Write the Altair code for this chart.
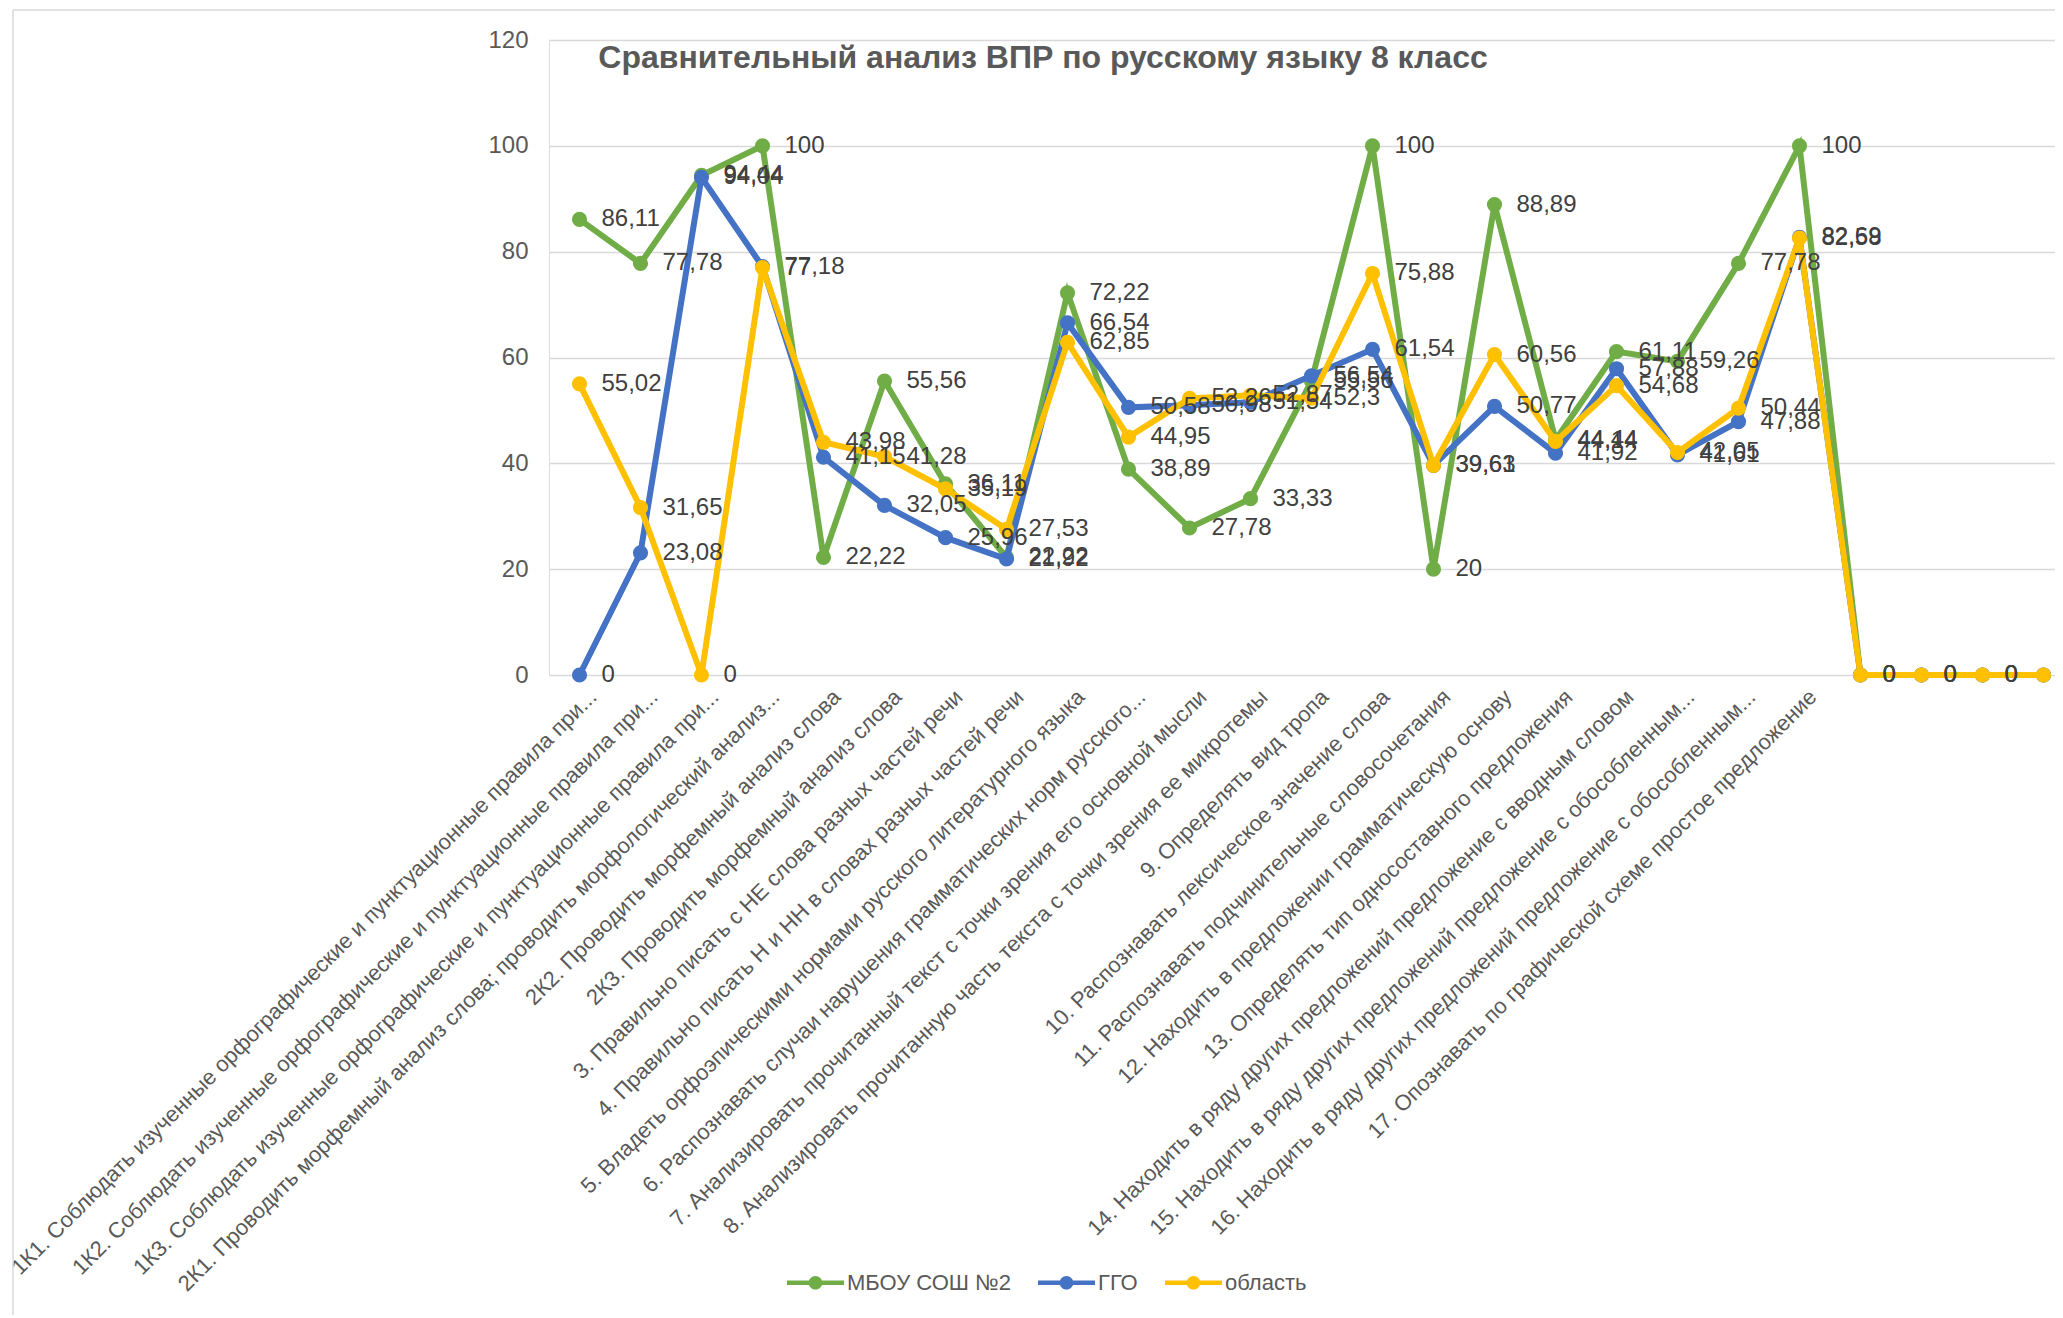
import altair as alt
import pandas as pd

categories = [
    "1К1. Соблюдать изученные орфографические и пунктуационные правила при...",
    "1К2. Соблюдать изученные орфографические и пунктуационные правила при...",
    "1К3. Соблюдать изученные орфографические и пунктуационные правила при...",
    "2К1. Проводить морфемный анализ слова; проводить морфологический анализ...",
    "2К2. Проводить морфемный анализ слова",
    "2К3. Проводить морфемный анализ слова",
    "3. Правильно писать с НЕ слова разных частей речи",
    "4. Правильно писать Н и НН в словах разных частей речи",
    "5. Владеть орфоэпическими нормами русского литературного языка",
    "6. Распознавать случаи нарушения грамматических норм русского...",
    "7. Анализировать прочитанный текст с точки зрения его основной мысли",
    "8. Анализировать прочитанную часть текста с точки зрения ее микротемы",
    "9. Определять вид тропа",
    "10. Распознавать лексическое значение слова",
    "11. Распознавать подчинительные словосочетания",
    "12. Находить в предложении грамматическую основу",
    "13. Определять тип односоставного предложения",
    "14. Находить в ряду других предложений предложение с вводным словом",
    "15. Находить в ряду других предложений предложение с обособленным...",
    "16. Находить в ряду других предложений предложение с обособленным...",
    "17. Опознавать по графической схеме простое предложение",
    " ", "  ", "   ", "    ",
]

series_names = ["МБОУ СОШ №2", "ГГО", "область"]
series_colors = ["#70AD47", "#4472C4", "#FFC000"]

school = [86.11, 77.78, 94.44, 100, 22.22, 55.56, 36.11, 22.22, 72.22, 38.89, 27.78,
          33.33, 55.56, 100, 20, 88.89, 44.44, 61.11, 59.26, 77.78, 100, 0, 0, 0, 0]
ggo = [0, 23.08, 94.04, 77.18, 41.15, 32.05, 25.96, 21.92, 66.54, 50.58, 50.98,
       51.54, 56.54, 61.54, 39.61, 50.77, 41.92, 57.88, 41.61, 47.88, 82.69, 0, 0, 0, 0]
oblast = [55.02, 31.65, 0, 77, 43.98, 41.28, 35.19, 27.53, 62.85, 44.95, 52.26,
          52.87, 52.3, 75.88, 39.63, 60.56, 44.14, 54.68, 42.05, 50.44, 82.58, 0, 0, 0, 0]

y_ticks = [0, 20, 40, 60, 80, 100, 120]
title_text = "Сравнительный анализ ВПР по русскому языку 8 класс"

FONT = "Liberation Sans Narrow, Liberation Sans, sans-serif"
GRAY = "#595959"

rows = []
for s, vals in zip(series_names, [school, ggo, oblast]):
    for c, v in zip(categories, vals):
        rows.append({"series": s, "cat": c, "value": v})
df = pd.DataFrame(rows)

x_enc = alt.X(
    "cat:N",
    sort=categories,
    scale=alt.Scale(domain=categories, range=[0, 1525]),
    axis=alt.Axis(
        title=None, labelAngle=-45, labelAlign="right", labelBaseline="middle",
        labelFontSize=22, labelColor=GRAY, labelFont=FONT, labelLimit=2000,
        labelOverlap=False, ticks=False, domain=False, grid=False,
        labelPadding=18, labelOffset=13,
    ),
)
y_enc = alt.Y(
    "value:Q",
    scale=alt.Scale(domain=[0, 120], nice=False, zero=True),
    axis=alt.Axis(
        title=None, values=y_ticks, grid=True, gridColor="#D9D9D9", gridWidth=1.5,
        domain=False, ticks=False, labelPadding=21, labelFontSize=24,
        labelColor=GRAY, labelFont=FONT,
    ),
)
color_scale = alt.Scale(domain=series_names, range=series_colors)

legend_symbol = ("M-1,-0.08H1V0.08H-1Z "
                 "M-0.24,0A0.24,0.24 0 1,1 0.24,0A0.24,0.24 0 1,1 -0.24,0Z")
legend = alt.Legend(
    orient="none", legendX=238, legendY=1214, direction="horizontal", title=None,
    symbolType=legend_symbol, symbolSize=3249, symbolStrokeWidth=0, symbolOpacity=1,
    labelFontSize=22, labelColor=GRAY, labelFont=FONT, labelOffset=3,
    labelLimit=500, columnPadding=27,
)

base = alt.Chart(df)
layers = []
for s, col in zip(series_names, series_colors):
    sub = base.transform_filter(alt.datum.series == s)
    layers.append(sub.mark_line(strokeWidth=6, color=col).encode(x=x_enc, y=y_enc))
    layers.append(sub.mark_point(filled=True, size=230, opacity=1, strokeWidth=0).encode(
        x=x_enc, y=y_enc, color=alt.Color("series:N", scale=color_scale, legend=legend)))
for s in series_names:
    sub = base.transform_filter(alt.datum.series == s)
    layers.append(sub.transform_calculate(
        label="replace(toString(datum.value), '.', ',')"
    ).mark_text(align="left", baseline="middle", dx=22, fontSize=24, color="#404040",
                font=FONT).encode(x=x_enc, y=y_enc, text="label:N"))

one = alt.Chart(pd.DataFrame({"a": [0]}))
layers.append(one.mark_rule(color="#D9D9D9", strokeWidth=1.5).encode(
    x=alt.value(-536), x2=alt.value(2000), y=alt.value(-30)))
layers.append(one.mark_rule(color="#D9D9D9", strokeWidth=1.5).encode(
    x=alt.value(-536), y=alt.value(-30), y2=alt.value(1400)))
layers.append(one.mark_text(
    text=title_text, align="center", baseline="alphabetic", fontSize=32,
    fontWeight="bold", color=GRAY, font=FONT,
).encode(x=alt.value(494), y=alt.value(28)))

chart = alt.layer(*layers).properties(
    width=1506, height=635,
    autosize=alt.AutoSizeParams(type="none"),
    padding={"left": 541, "top": 32, "right": 0, "bottom": 640},
).configure_view(stroke=None).configure(background="white")

chart.save("out.html", embed_options={"renderer": "svg", "actions": False})
